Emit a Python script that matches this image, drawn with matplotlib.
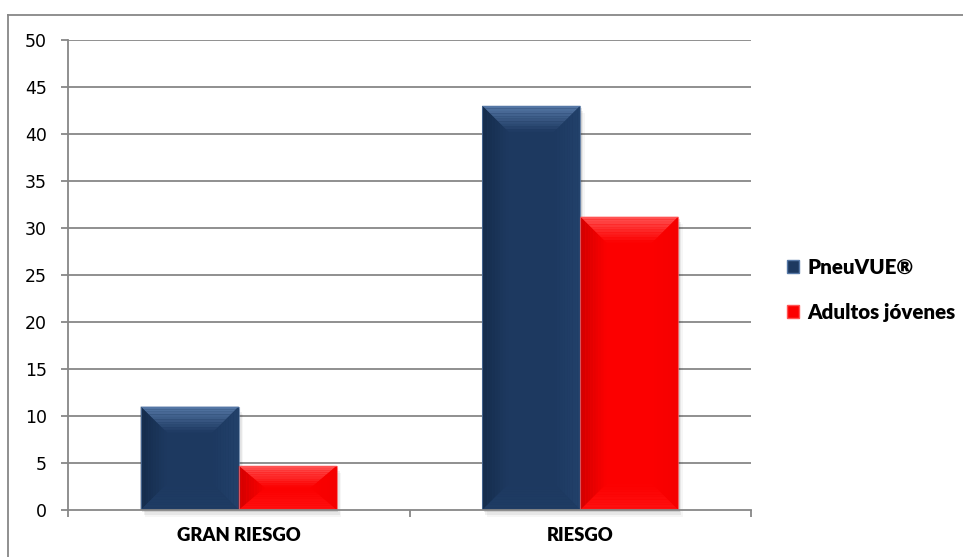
import matplotlib
matplotlib.use("Agg")
import matplotlib.pyplot as plt
import numpy as np
import matplotlib.colors as co
from matplotlib.patches import Polygon, Rectangle, Patch
from matplotlib.lines import Line2D

from matplotlib import rcParams
rcParams['axes.edgecolor'] = '#878787'
rcParams['xtick.color'] = '#878787'
rcParams['ytick.color'] = '#878787'

# data
categories = ['GRAN RIESGO', 'RIESGO']
series_names = ['PneuVUE®', 'Adultos jóvenes']
pneuvue = [11, 43]
adultos = [4.7, 31.2]
yticks = list(range(0, 51, 5))

# face, top bevel, left bevel, right bevel, bottom bevel
blue_shades = ['#1d3960', '#5678a6', '#142b4a', '#22416a', '#1f3c64']
red_shades = ['#fc0000', '#ff5555', '#d00000', '#f40000', '#ff1010']

GRID = '#878787'


def _mix(c1, c2, t):
	a = np.array(co.to_rgb(c1))
	b = np.array(co.to_rgb(c2))
	return tuple(a + (b - a) * t)


def _gradSide(ax, outer, inner, c_out, c_in, n=10):
	# outer / inner: two points each; fill strips blending c_out -> c_in
	(o0, o1) = outer
	(i0, i1) = inner
	p = lambda a, b, t: (a[0] + (b[0] - a[0]) * t, a[1] + (b[1] - a[1]) * t)
	for k in range(n):
		t0 = k / n
		t1 = (k + 1) / n
		poly = [p(o0, i0, t0), p(o1, i1, t0), p(o1, i1, t1), p(o0, i0, t1)]
		ax.add_patch(Polygon(poly, closed=True, facecolor=_mix(c_out, c_in, (k + 0.5) / n),
			edgecolor='none', zorder=4))


def _bevelBar(ax, x0, w, h, shades, bev_px=26):
	# pixel -> data conversion
	inv = ax.transData.inverted()
	p0 = inv.transform((0, 0))
	p1 = inv.transform((1, 1))
	px = p1[0] - p0[0]
	py = p1[1] - p0[1]
	bx = min(bev_px * px, w / 2.0)
	by = min(bev_px * py, h / 2.0)

	# soft shadow under the bar
	for k, a in enumerate([0.10, 0.06, 0.035]):
		ax.add_patch(Rectangle((x0 + (k + 1) * 1.5 * px, -(k + 1) * 2.5 * py), w, h,
			facecolor='#000000', edgecolor='none', alpha=a, zorder=2, clip_on=False))

	x1 = x0 + w
	face, top, left, right, bottom = shades
	ax.add_patch(Rectangle((x0, 0), w, h, facecolor=face, edgecolor='none', zorder=3))
	# top
	_gradSide(ax, ((x0, h), (x1, h)), ((x0 + bx, h - by), (x1 - bx, h - by)), top, face)
	# left
	_gradSide(ax, ((x0, h), (x0, 0)), ((x0 + bx, h - by), (x0 + bx, by)), left, face)
	# right
	_gradSide(ax, ((x1, h), (x1, 0)), ((x1 - bx, h - by), (x1 - bx, by)), right, face)
	# bottom
	_gradSide(ax, ((x0, 0), (x1, 0)), ((x0 + bx, by), (x1 - bx, by)), bottom, face)
	# thin outline
	ax.add_patch(Rectangle((x0, 0), w, h, facecolor='none', edgecolor=top,
		linewidth=0.8, alpha=0.7, zorder=5))


fig = plt.figure(figsize=(9.63, 5.57), dpi=100)
ax = fig.add_axes([0.0706, 0.0844, 0.7093, 0.8438])

ax.set_xlim(-0.5, 1.5)
ax.set_ylim(0, 50)

# gridlines
for t in yticks[1:]:
	ax.axhline(t, color=GRID, linewidth=1.3, zorder=1)

bar_w = 0.287
x = np.arange(len(categories))
for i in range(len(categories)):
	_bevelBar(ax, x[i] - bar_w, bar_w, pneuvue[i], blue_shades)
	_bevelBar(ax, x[i], bar_w, adultos[i], red_shades)

# axes styling
ax.spines['top'].set_visible(False)
ax.spines['right'].set_visible(False)
ax.spines['left'].set_linewidth(1.3)
ax.spines['bottom'].set_linewidth(1.3)
ax.spines['bottom'].set_zorder(6)

ax.set_yticks(yticks)
ax.tick_params(axis='y', length=5, width=1.3, pad=10, labelcolor='black', labelsize=12.5)

ax.set_xticks([-0.5, 0.5, 1.5])
ax.set_xticklabels([])
ax.tick_params(axis='x', which='major', length=5, width=1.3)
ax.set_xticks(x, minor=True)
ax.set_xticklabels(categories, minor=True, fontfamily='Lato', fontweight='heavy', fontsize=13.3)
ax.tick_params(axis='x', which='minor', length=0, pad=12, labelcolor='black')

# legend
handles = [Patch(facecolor=blue_shades[0], edgecolor=blue_shades[1]),
	Patch(facecolor=red_shades[0], edgecolor=red_shades[1])]
leg = ax.legend(handles, series_names, loc='center left', bbox_to_anchor=(1.052, 0.468),
	frameon=False, borderpad=0, borderaxespad=0, handlelength=0.6, handleheight=0.6,
	handletextpad=0.4, labelspacing=1.25,
	prop={'family': 'Lato', 'weight': 'heavy', 'size': 14.8})

# outer chart frame
fig.add_artist(Line2D([8 / 963, 1], [1 - 15 / 557, 1 - 15 / 557], color='#878787',
	linewidth=1.3, transform=fig.transFigure))
fig.add_artist(Line2D([8 / 963, 8 / 963], [0, 1 - 15 / 557], color='#878787',
	linewidth=1.3, transform=fig.transFigure))

fig.savefig('out.png', dpi=100)
